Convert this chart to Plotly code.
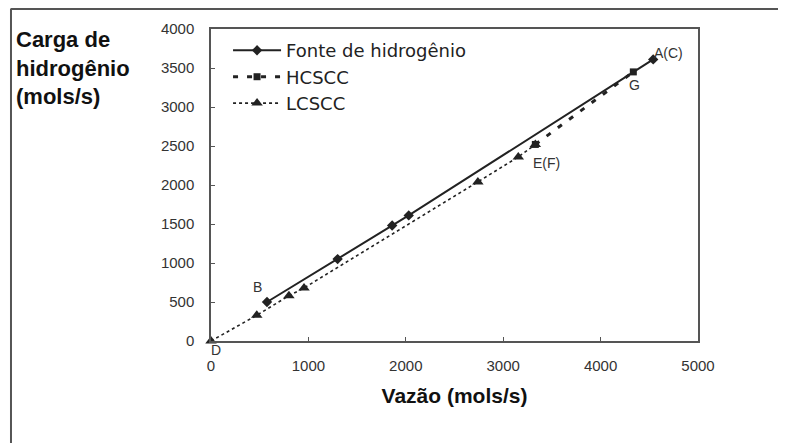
import plotly.graph_objects as go

# ---- data ----
fonte_x = [575, 1300, 1860, 2030, 4540]
fonte_y = [500, 1050, 1480, 1610, 3610]

hcscc_x = [3330, 4336]
hcscc_y = [2520, 3450]

lcscc_x = [0, 470, 800, 955, 2740, 3155, 3330]
lcscc_y = [0, 330, 580, 680, 2040, 2360, 2520]

point_labels = ["B", "D", "E(F)", "G", "A(C)"]
label_x = [479, 51, 3447, 4353, 4695]
label_y = [688, -115, 2286, 3282, 3688]

x_ticks = [0, 1000, 2000, 3000, 4000, 5000]
y_ticks = [0, 500, 1000, 1500, 2000, 2500, 3000, 3500, 4000]
Y_MAX = 4000

INK = "#222222"
FRAME = "#555555"

fig = go.Figure()
fig.add_trace(go.Scatter(
    x=fonte_x, y=fonte_y, mode="lines+markers", name="Fonte de hidrogênio",
    line=dict(color=INK, width=2),
    marker=dict(symbol="diamond", size=8, color=INK),
    cliponaxis=False))
fig.add_trace(go.Scatter(
    x=hcscc_x, y=hcscc_y, mode="lines+markers", name="HCSCC",
    line=dict(color=INK, width=3, dash="5px,9px"),
    marker=dict(symbol="square", size=7, color=INK),
    cliponaxis=False))
fig.add_trace(go.Scatter(
    x=lcscc_x, y=lcscc_y, mode="lines+markers", name="LCSCC",
    line=dict(color=INK, width=1.6, dash="3px,3px"),
    marker=dict(symbol="triangle-up", size=10, color=INK),
    cliponaxis=False))

# point labels (y given in paper units so labels below the axis are still shown)
for t, xx, yy in zip(point_labels, label_x, label_y):
    fig.add_annotation(x=xx, y=yy / Y_MAX, xref="x", yref="paper", text=t, showarrow=False,
                       xanchor="center", yanchor="middle",
                       font=dict(family="Liberation Sans, Arial", size=14, color="#333333"))

# y-axis title block (top-left, bold, three lines)
fig.add_annotation(x=-0.405, y=1.012, xref="paper", yref="paper",
                   xanchor="left", yanchor="top", align="left", showarrow=False,
                   text="<b>Carga de<br>hidrogênio<br>(mols/s)</b>",
                   font=dict(family="Liberation Sans, Arial", size=22, color="#111111"))

# outer frame lines (left and top)
fig.add_shape(type="line", xref="paper", yref="paper",
              x0=-0.4107, x1=-0.4107, y0=1.066, y1=-0.35,
              line=dict(color=FRAME, width=2))
fig.add_shape(type="line", xref="paper", yref="paper",
              x0=-0.4107, x1=1.25, y0=1.064, y1=1.064,
              line=dict(color=FRAME, width=2))

axis_common = dict(showline=True, linecolor=FRAME, linewidth=1.5, mirror=True,
                   showgrid=False, zeroline=False, ticks="inside", ticklen=4,
                   tickcolor=FRAME, tickwidth=1,
                   tickfont=dict(family="Liberation Sans, Arial", size=15, color="#333333"))

fig.update_xaxes(range=[0, 5000], tickvals=x_ticks, ticklabelstandoff=10,
                 title=dict(text="<b>Vazão (mols/s)</b>", standoff=16,
                            font=dict(family="Liberation Sans, Arial", size=21, color="#111111")),
                 **axis_common)
fig.update_yaxes(range=[0, Y_MAX], tickvals=y_ticks, ticklabelstandoff=12,
                 **axis_common)

# page body has an 8px default margin, so the margins are offset by 8px
fig.update_layout(
    width=786, height=443,
    margin=dict(l=203, r=96, t=21, b=110),
    paper_bgcolor="white", plot_bgcolor="white",
    showlegend=True,
    legend=dict(x=0.035, y=0.99, xanchor="left", yanchor="top",
                bgcolor="rgba(0,0,0,0)",
                font=dict(family="DejaVu Sans", size=18, color="#222222"),
                itemwidth=48, tracegroupgap=0),
)

fig.write_html("out.html")
